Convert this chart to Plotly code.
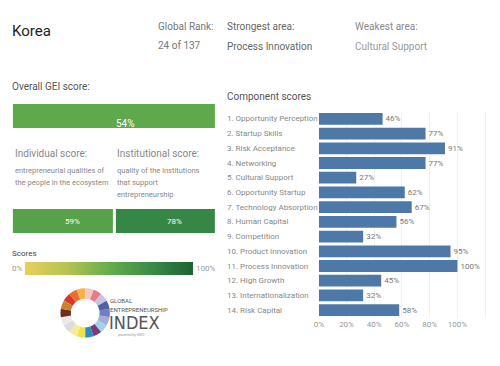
import plotly.graph_objects as go
from plotly.colors import sample_colorscale
import numpy as np

W, H = 500, 366

country = "Korea"
global_rank = "24 of 137"
strongest_area = "Process Innovation"
weakest_area = "Cultural Support"

overall_score = 0.54
individual_score = 0.59
institutional_score = 0.78

component_names = [
    "1. Opportunity Perception", "2. Startup Skills", "3. Risk Acceptance",
    "4. Networking", "5. Cultural Support", "6. Opportunity Startup",
    "7. Technology Absorption", "8. Human Capital", "9. Competition",
    "10. Product Innovation", "11. Process Innovation", "12. High Growth",
    "13. Internationalization", "14. Risk Capital",
]
component_values = [0.46, 0.77, 0.91, 0.77, 0.27, 0.62, 0.67, 0.56, 0.32,
                    0.95, 1.00, 0.45, 0.32, 0.58]

axis_tickvals = [0, 0.2, 0.4, 0.6, 0.8, 1.0, 1.2]
axis_ticktext = ["0%", "20%", "40%", "60%", "80%", "100%", ""]

score_scale = [[0.0, "#e9cf5c"], [0.25, "#b6c352"], [0.5, "#66ad4b"],
               [0.75, "#3a8c49"], [1.0, "#1c6333"]]

logo_colors = ["#6f7fc4", "#a7a9d8", "#9fd3e8", "#7a3b78", "#2b8cc4", "#f2e04a",
               "#f3ec9a", "#dcdcdc", "#e9e9e9", "#6b2f1a", "#c9822e", "#d33a2a",
               "#e8702a", "#f4b24a", "#f1c9c0", "#e47a8a", "#c9c3e3", "#4f5fa8"]

FONT = "Roboto"
DX = -4   # left-panel horizontal nudge
DXR = -2  # right-panel horizontal nudge


def px(x):
    return x / W


def py(y):
    return 1 - y / H


fig = go.Figure()

# Component bars
fig.add_trace(go.Bar(
    x=component_values, y=component_names, orientation="h",
    marker=dict(color="#4e78a8", line=dict(width=0)),
    text=[f"{v:.0%}" for v in component_values], textposition="outside",
    textfont=dict(size=8, color="#777", family=FONT),
    cliponaxis=False, xaxis="x", yaxis="y", showlegend=False,
    hoverinfo="skip",
))

# Score gradient bar
grad = np.linspace(0, 1, 201)
fig.add_trace(go.Heatmap(
    z=[grad], x=grad, y=[0], colorscale=score_scale, zmin=0, zmax=1,
    showscale=False, xaxis="x3", yaxis="y3", hoverinfo="skip",
))

# Logo ring
fig.add_trace(go.Pie(
    values=[1] * len(logo_colors), marker=dict(colors=logo_colors, line=dict(width=0)),
    hole=0.58, sort=False, direction="clockwise", rotation=80,
    textinfo="none", showlegend=False, hoverinfo="skip",
    domain=dict(x=[px(60 + DX), px(110 + DX)], y=[py(339), py(287)]),
))

shapes = []
annotations = []

# category labels left-aligned
for name in component_names:
    annotations.append(dict(x=px(224 + DXR), xref="paper", y=name, yref="y", text=name,
                            showarrow=False, xanchor="left", yanchor="middle",
                            font=dict(size=8, color="#888", family=FONT)))


def tile(x0, x1, y0, y1, value):
    x0 += DX
    x1 += DX
    color = sample_colorscale(score_scale, [value])[0]
    shapes.append(dict(type="rect", xref="paper", yref="paper",
                       x0=px(x0), x1=px(x1), y0=py(y1), y1=py(y0),
                       fillcolor=color, line=dict(width=0), layer="below"))
    annotations.append(dict(x=px((x0 + x1) / 2), y=py((y0 + y1) / 2),
                            xref="paper", yref="paper", text=f"{value:.0%}",
                            showarrow=False, font=dict(size=10 if x1 - x0 > 150 else 8,
                                                       color="white", family=FONT)))


tile(12, 216, 104, 128, overall_score)
tile(12, 113, 209, 233, individual_score)
tile(116, 216, 209, 233, institutional_score)


def txt(x, y, text, size, color="#666", anchor="left", family=FONT, dx=DX):
    annotations.append(dict(x=px(x + dx), y=py(y), xref="paper", yref="paper", text=text,
                            showarrow=False, xanchor=anchor, yanchor="middle",
                            font=dict(size=size, color=color, family=family)))


txt(9, 31, country, 15, "#222")
txt(157, 27, "Global Rank:", 10, "#777")
txt(157, 45, global_rank, 10, "#777")
txt(226, 27, "Strongest area:", 10, "#666")
txt(226, 46, strongest_area, 10, "#666")
txt(356, 27, "Weakest area:", 10, "#888")
txt(356, 46, weakest_area, 10, "#999")

txt(9, 86, "Overall GEI score:", 10, "#555")
txt(12, 153, "Individual score:", 10, "#888")
txt(115, 153, "Institutional score:", 10, "#888")
txt(12, 170, "entrepreneurial qualities of", 7.5, "#888")
txt(12, 182, "the people in the ecosystem", 7.5, "#888")
txt(115, 170, "quality of the institutions", 7.5, "#888")
txt(115, 182, "that support", 7.5, "#888")
txt(115, 194, "entrepreneurship", 7.5, "#888")

txt(9, 253, "Scores", 8, "#444")
txt(9, 268, "0%", 8, "#999")
txt(195, 268, "100%", 8, "#999")

txt(224, 96, "Component scores", 10, "#555", dx=DXR)

# Logo text
txt(108, 300, "GLOBAL", 6, "#555")
txt(108, 309, "ENTREPRENEURSHIP", 6, "#555")
txt(107, 322, "INDEX", 18, "#555", family="Liberation Sans Narrow, DejaVu Sans Condensed, sans-serif")
txt(116, 335, "powered by GEDI", 3.5, "#999")

fig.update_layout(
    width=W, height=H, margin=dict(l=0, r=0, t=0, b=0),
    paper_bgcolor="white", plot_bgcolor="white",
    bargap=0.2,
    shapes=shapes, annotations=annotations,
    xaxis=dict(domain=[px(319 + DXR), px(490 + DXR)], range=[0, 1.2214], tickvals=axis_tickvals,
               ticktext=axis_ticktext, showgrid=True, gridcolor="#f0f0f0",
               zeroline=False, showline=False, ticks="",
               tickfont=dict(size=8, color="#999", family=FONT), fixedrange=True),
    yaxis=dict(domain=[py(317.5), py(111.5)], autorange="reversed",
               showticklabels=False, showgrid=False, zeroline=False, ticks="",
               fixedrange=True),
    xaxis3=dict(domain=[px(24 + DX), px(194 + DX)], range=[0, 1], visible=False, anchor="y3"),
    yaxis3=dict(domain=[py(275), py(262)], range=[-0.5, 0.5], visible=False, anchor="x3"),
)

fig.write_html("out.html", config={"displayModeBar": False},
               post_script="document.body.style.margin='0';")
